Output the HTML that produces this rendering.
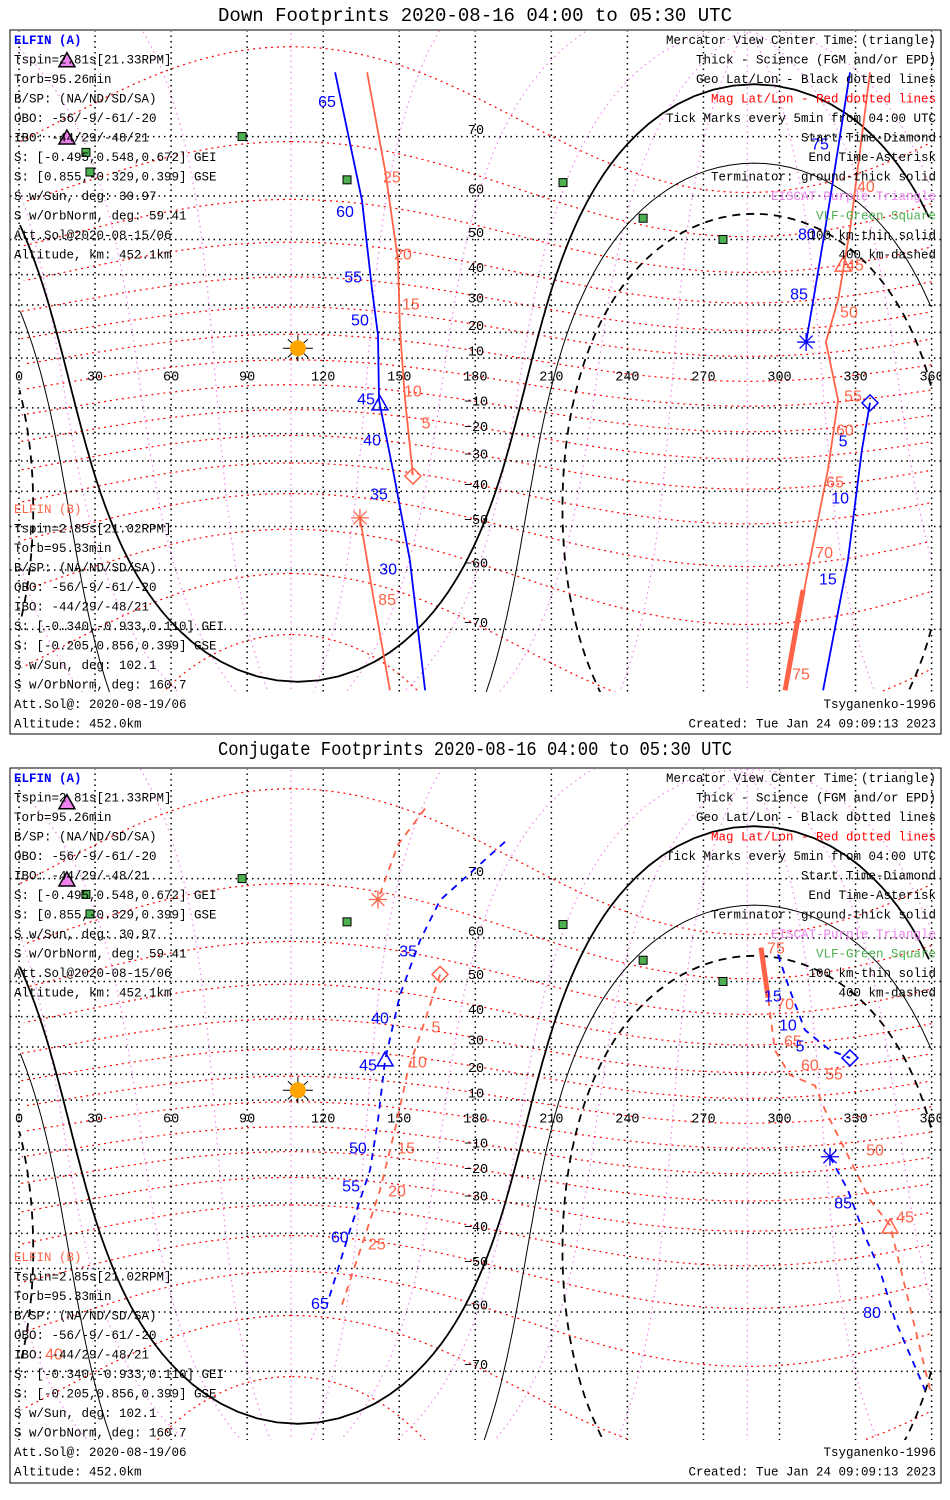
<!DOCTYPE html>
<html><head><meta charset="utf-8"><title>ELFIN Footprints</title>
<style>
html,body{margin:0;padding:0;background:#fff;width:950px;height:1500px;overflow:hidden;}
svg{display:block;}
.t{font-family:"Liberation Mono","DejaVu Sans Mono",monospace;font-size:12.5px;}
.ttl{font-family:"Liberation Mono","DejaVu Sans Mono",monospace;font-size:19px;}
.lbl{font-family:"Liberation Sans","DejaVu Sans",sans-serif;font-size:16px;}
.ax{font-family:"Liberation Mono","DejaVu Sans Mono",monospace;font-size:13.5px;}
</style></head>
<body>
<svg id="chart" width="950" height="1500" viewBox="0 0 950 1500" xmlns="http://www.w3.org/2000/svg">
<rect x="0" y="0" width="950" height="1500" fill="#fff"/>
<defs>
<clipPath id="clip1"><rect x="10" y="31" width="931" height="661"/></clipPath>
<clipPath id="clip2"><rect x="10" y="769" width="931" height="671"/></clipPath>
</defs>
<g id="p1"></g>
<g id="p2"></g>
</svg>
<script>
// ---------- data ----------
const SUBSOLAR_LAT = 13.9;
const SUBSOLAR_LON = 110;
const TERM_RADII = [90, 100.1, 109.9];
const MAGPOLE_LAT = 80.7;
const MAGPOLE_LON = 287.3;
const MLAT_LEVELS = [-80,-70,-60,-50,-40,-30,-20,-10,0,10,20,30,40,50,60,70];
const MLON_AZ = [0,30,60,90,120,150,180,210,240,270,300,330];
const GEO_LON_TICKS = [0,30,60,90,120,150,180,210,240,270,300,330,360];
const GEO_LAT_TICKS = [70,60,50,40,30,20,10,-10,-20,-30,-40,-50,-60,-70];
const VLF_LON = [88,26.4,28,129.4,214.6,246.2,277.7];
const VLF_LAT = [70,67.7,64.5,63.1,62.6,55.2,50.0];
const EISCAT_LON = [18.9,18.9];
const EISCAT_LAT = [78.2,69.8];

// Panel 1 (down footprints)
const d_A1_lon = [124.7,135.3,139.3,141.6,142.0,148.3,154.2,160.2];
const d_A1_lat = [77.2,59.1,35.1,19.0,-6.9,-36.4,-58.0,-76.9];
const d_A1_tick = [65,60,55,50,45,40,35,30];
const d_A1_tlon = [121.5,128.6,131.8,134.5,136.9,139.3,142.0,145.6];
const d_A1_tlat = [74.2,56.5,38.9,24.3,-6.9,-22.8,-41.1,-60.0];
const d_B1_lon = [137.3,144.4,149.5,150.3,152.3,155.4];
const d_B1_lat = [77.2,64.8,44.4,20.9,-6.9,-34.8];
const d_B1_tick = [25,20,15,10,5];
const d_B1_tlon = [147.1,151.5,154.6,155.4,160.6];
const d_B1_tlat = [63.4,45.8,30.0,-3.6,-16.3];
const d_B2_lon = [134.5,139.3,146.3];
const d_B2_lat = [-47.7,-63.8,-76.9];
const d_B2_tick = [85];
const d_B2_tlon = [145.2];
const d_B2_tlat = [-65.6];
const d_A2_lon = [327.8,319.9,314.0,310.5];
const d_A2_lat = [77.2,59.1,35.1,16.3];
const d_A2_tick = [75,80,85];
const d_A2_tlon = [316,310.8,307.7];
const d_A2_tlat = [68.8,51.1,33.4];
const d_A3_lon = [335.7,332.5,327.0,317.2];
const d_A3_lat = [-8.0,-26.1,-58.0,-76.9];
const d_A3_tick = [5,10,15];
const d_A3_tlon = [325.1,323.9,319.1];
const d_A3_tlat = [-23.1,-42.3,-62.0];
const d_B3_lon = [335.7,327.8,323.1,318.3,323.1,319.1,312.0,302.2];
const d_B3_lat = [77.2,52.4,31.8,16.3,-6.9,-33.1,-58.0,-76.9];
const d_B3_sci_lon = [309.3,302.2];
const d_B3_sci_lat = [-63.8,-76.9];
const d_B3_tick = [40,45,50,55,60,65,70,75];
const d_B3_tlon = [334.1,329.8,327.4,329.0,325.8,321.9,317.6,308.5];
const d_B3_tlat = [61.7,42.6,27.1,-5.6,-19.0,-37.4,-56.5,-75.4];

// Panel 2 (conjugate footprints)
const c_A1_lon = [191.7,166.1,158.2,150.3,144.4,141.6,138.5,130.6,121.5];
const c_A1_lat = [74.5,66.8,59.5,46.4,25.4,2.0,-17.8,-38.9,-58.5];
const c_A1_tick = [35,40,45,50,55,60,65];
const c_A1_tlon = [153.5,142.4,137.7,133.7,131.0,126.6,118.7];
const c_A1_tlat = [57.0,39.3,23.1,-9.6,-24.3,-41.4,-58.5];
const c_B1_lon = [160.2,149.5,141.6];
const c_B1_lat = [77.7,74.2,66.9];
const c_B2_lon = [166.1,160.2,153.5,148.3,142.4,136.5,127.4];
const c_B2_lat = [51.8,38.9,21.7,-2.0,-25.4,-40.8,-58.5];
const c_B2_tick = [5,10,15,20,25];
const c_B2_tlon = [164.5,157.4,152.7,149.1,141.2];
const c_B2_tlat = [36.4,24.3,-9.6,-26.1,-43.5];
const c_B3_lon = [292.7,295.5,298.2,304.1,314.0,318.0,323.9,335.7,343.6,359.4];
const c_B3_lat = [58.0,45.6,28.9,19.8,15.7,6.0,-6.0,-28.9,-37.4,-72.4];
const c_B3_sci_lon = [292.7,295.5];
const c_B3_sci_lat = [58.0,45.6];
const c_B3_tick = [75,70,65,60,55,50,45,40];
const c_B3_tlon = [298.6,302.2,305.3,312.0,321.5,337.7,349.5,13.8];
const c_B3_tlat = [57.7,43.5,31.8,23.1,19.8,-10.4,-35.1,-67.6];
const c_A2_lon = [299.4,304.1,310.0,319.9,327.8];
const c_A2_lat = [56.5,47.7,35.8,28.9,26.1];
const c_A2_tick = [15,10,5];
const c_A2_tlon = [297.4,303.3,308.1];
const c_A2_tlat = [45.8,37.0,30.0];
const c_A3_lon = [319.9,327.0,333.7,339.6,345.6,357.4];
const c_A3_lat = [-12.7,-25.4,-40.8,-50.4,-61.6,-72.4];
const c_A3_tick = [85,80];
const c_A3_tlon = [325.1,336.5];
const c_A3_tlat = [-30.4,-60.3];

const BLUE = "#0000ff", ORANGE = "#ff6347", RED = "#ff0000", VIOLET = "#ee82ee", GREEN = "#4cb050";
const NS = "http://www.w3.org/2000/svg";
const D2R = Math.PI/180;

function mk(tag, attrs, parent){
  const e = document.createElementNS(NS, tag);
  for (const k in attrs) e.setAttribute(k, attrs[k]);
  parent.appendChild(e);
  return e;
}
function X(lon){ lon = ((lon % 360) + 360) % 360; return 19 + lon*2.535; }
function Xr(lon){ return 19 + lon*2.535; }
function Yf(y0){ return function(lat){ lat = Math.max(-86, Math.min(86, lat)); return y0 - 142*Math.log(Math.tan(Math.PI/4 + lat*D2R/2)); }; }

function pathFrom(lons, lats, Y, wrap){
  let d = "", px = null;
  for (let i=0;i<lons.length;i++){
    const x = wrap ? X(lons[i]) : Xr(lons[i]);
    const y = Y(lats[i]);
    if (px === null || Math.abs(x-px) > 300) d += "M"+x.toFixed(1)+","+y.toFixed(1);
    else d += "L"+x.toFixed(1)+","+y.toFixed(1);
    px = x;
  }
  return d;
}
function circlePts(lat0, lon0, r){
  const lons=[], lats=[];
  const p0 = lat0*D2R, rr = r*D2R;
  for (let a=0;a<=360;a+=2){
    const az = a*D2R;
    const sl = Math.sin(p0)*Math.cos(rr) + Math.cos(p0)*Math.sin(rr)*Math.cos(az);
    const lat = Math.asin(sl);
    const lon = lon0*D2R + Math.atan2(Math.sin(az)*Math.sin(rr)*Math.cos(p0), Math.cos(rr)-Math.sin(p0)*sl);
    lons.push(lon/D2R); lats.push(lat/D2R);
  }
  return [lons, lats];
}
function meridianPts(lat0, lon0, az){
  const lons=[], lats=[];
  const p0 = lat0*D2R, a = az*D2R;
  for (let r=0;r<=180;r+=2){
    const rr = r*D2R;
    const sl = Math.sin(p0)*Math.cos(rr) + Math.cos(p0)*Math.sin(rr)*Math.cos(a);
    const lat = Math.asin(sl);
    const lon = lon0*D2R + Math.atan2(Math.sin(a)*Math.sin(rr)*Math.cos(p0), Math.cos(rr)-Math.sin(p0)*sl);
    lons.push(lon/D2R); lats.push(lat/D2R);
  }
  return [lons, lats];
}
function text(parent, x, y, str, cls, fill, anchor, name){
  const t = mk("text", {x:x, y:y, class:cls, fill:fill, "text-anchor":anchor||"start", "dominant-baseline":"central"}, parent);
  
  
  t.textContent = str;
  return t;
}
function triangle(g, x, y, color, fill, name){
  const p = mk("polygon", {points:(x)+","+(y-8)+" "+(x-8)+","+(y+6)+" "+(x+8)+","+(y+6), fill:fill, stroke:color, "stroke-width":1.5}, g);
  
  
}
function diamond(g, x, y, color, name){
  const p = mk("polygon", {points:x+","+(y-8)+" "+(x+8)+","+y+" "+x+","+(y+8)+" "+(x-8)+","+y, fill:"none", stroke:color, "stroke-width":1.5}, g);
  
  
}
function asterisk(g, x, y, color, name){
  const d = "M"+(x-9)+","+y+"L"+(x+9)+","+y+"M"+x+","+(y-9)+"L"+x+","+(y+9)+"M"+(x-6.5)+","+(y-6.5)+"L"+(x+6.5)+","+(y+6.5)+"M"+(x-6.5)+","+(y+6.5)+"L"+(x+6.5)+","+(y-6.5);
  const p = mk("path", {d:d, stroke:color, "stroke-width":1.3, fill:"none"}, g);
  
  
}

function drawPanel(g, cfg){
  const Y = Yf(cfg.y0);
  const fr = mk("rect", {x:10, y:cfg.top, width:931, height:cfg.bottom-cfg.top, fill:"none", stroke:"#000", "stroke-width":1}, g);
  
  
  const tt = mk("text", {x:475, y:cfg.titleY, class:"ttl", fill:"#000", "text-anchor":"middle", "dominant-baseline":"central", textLength:514, lengthAdjust:"spacingAndGlyphs"}, g);
  
  
  tt.textContent = cfg.title;

  const m = mk("g", {"clip-path":"url(#"+cfg.clip+")"}, g);
  
  

  MLON_AZ.forEach(function(az){
    const pts = meridianPts(MAGPOLE_LAT, MAGPOLE_LON, az);
    const p = mk("path", {d:pathFrom(pts[0], pts[1], Y, true), stroke:VIOLET, "stroke-width":1.2, "stroke-dasharray":"1.5,4", fill:"none"}, m);
    
    
  });
  MLAT_LEVELS.forEach(function(ml){
    const pts = circlePts(MAGPOLE_LAT, MAGPOLE_LON, 90-ml);
    const p = mk("path", {d:pathFrom(pts[0], pts[1], Y, true), stroke:RED, "stroke-width":1.2, "stroke-dasharray":"2,4", fill:"none"}, m);
    
    
  });
  GEO_LON_TICKS.forEach(function(lo){
    const p = mk("line", {x1:Xr(lo), x2:Xr(lo), y1:cfg.top, y2:cfg.mapBottom, stroke:"#000", "stroke-width":1.5, "stroke-dasharray":"1.5,4"}, m);
    
    
  });
  GEO_LAT_TICKS.forEach(function(la){
    const p = mk("line", {x1:10, x2:941, y1:Y(la), y2:Y(la), stroke:"#000", "stroke-width":1.5, "stroke-dasharray":"1.5,4"}, m);
    
    
  });
  TERM_RADII.forEach(function(r, i){
    const pts = circlePts(SUBSOLAR_LAT, SUBSOLAR_LON, r);
    const attrs = {d:pathFrom(pts[0], pts[1], Y, true), stroke:"#000", fill:"none", "stroke-width": i===0 ? 1.8 : 1};
    if (i===2){ attrs["stroke-dasharray"]="8,6"; attrs["stroke-width"]=1.8; }
    const p = mk("path", attrs, m);
    
    
  });
  GEO_LON_TICKS.forEach(function(lo){
    text(m, Xr(lo), cfg.y0-5, String(lo), "ax", "#000", "middle", "lon-tick-label");
  });
  GEO_LAT_TICKS.forEach(function(la){
    text(m, 476, Y(la)-5, la<0 ? "\u2212"+(-la) : String(la), "ax", "#000", "middle", "lat-tick-label");
  });
  VLF_LON.forEach(function(lo, i){
    const r = mk("rect", {x:X(lo)-4, y:Y(VLF_LAT[i])-4, width:8, height:8, fill:GREEN, stroke:"#000", "stroke-width":1}, m);
    
    
  });
  EISCAT_LON.forEach(function(lo, i){
    triangle(m, X(lo), Y(EISCAT_LAT[i]), "#000", VIOLET, "eiscat-station");
  });
  const sx = X(SUBSOLAR_LON), sy = Y(SUBSOLAR_LAT);
  const rays = mk("path", {d:"M"+(sx-15)+","+sy+"L"+(sx+15)+","+sy+"M"+sx+","+(sy-13)+"L"+sx+","+(sy+13)+"M"+(sx-10)+","+(sy-9)+"L"+(sx+10)+","+(sy+9)+"M"+(sx-10)+","+(sy+9)+"L"+(sx+10)+","+(sy-9), stroke:"#000", "stroke-width":1}, m);
  
  
  const sun = mk("circle", {cx:sx, cy:sy, r:8, fill:"#ffa500"}, m);
  
  

  cfg.tracks.forEach(function(tr){
    const attrs = {d:pathFrom(tr.lon, tr.lat, Y, false), stroke:tr.color, "stroke-width":1.8, fill:"none"};
    if (cfg.dashed) attrs["stroke-dasharray"] = "7,6";
    const p = mk("path", attrs, m);
    
    
    if (tr.sciLon){
      const s = mk("path", {d:pathFrom(tr.sciLon, tr.sciLat, Y, false), stroke:tr.color, "stroke-width":5, fill:"none"}, m);
      
      
    }
    if (tr.tick){
      tr.tick.forEach(function(v, i){
        text(m, X(tr.tlon[i]), Y(tr.tlat[i]), String(v), "lbl", tr.color, "middle", "track-time-tick");
      });
    }
  });
  cfg.markers.forEach(function(mm){
    const x = Xr(mm.lon), y = Y(mm.lat);
    if (mm.type==="tri") triangle(m, x, y, mm.color, "none", "center-time-triangle");
    else if (mm.type==="dia") diamond(m, x, y, mm.color, "start-time-diamond");
    else asterisk(m, x, y, mm.color, "end-time-asterisk");
  });

  const L = cfg.textTop, B = cfg.textBot, S = 19.5;
  const left = ["ELFIN (A)","Tspin=2.81s[21.33RPM]","Torb=95.26min","B/SP: (NA/ND/SD/SA)","OBO: -56/-9/-61/-20","IBO: -44/29/-48/21","S: [-0.495,0.548,0.672] GEI","S: [0.855,-0.329,0.399] GSE","S w/Sun, deg: 30.97","S w/OrbNorm, deg: 59.41","Att.Sol@2020-08-15/06","Altitude, km: 452.1km"];
  left.forEach(function(s, i){
    const t = text(g, 14, L+i*S, s, "t", i===0 ? BLUE : "#000", "start", i===0 ? "elfin-a-heading" : "elfin-a-info");
    if (i===0) t.setAttribute("font-weight","bold");
  });
  const leftB = ["ELFIN (B)","Tspin=2.85s[21.02RPM]","Torb=95.33min","B/SP: (NA/ND/SD/SA)","OBO: -56/-9/-61/-20","IBO: -44/29/-48/21","S: [-0.340,-0.933,0.110] GEI","S: [-0.205,0.856,0.399] GSE","S w/Sun, deg: 102.1","S w/OrbNorm, deg: 160.7","Att.Sol@: 2020-08-19/06","Altitude: 452.0km"];
  leftB.forEach(function(s, i){
    text(g, 14, B+i*S, s, "t", i===0 ? ORANGE : "#000", "start", i===0 ? "elfin-b-heading" : "elfin-b-info");
  });
  const right = [["Mercator View Center Time (triangle)","#000"],["Thick - Science (FGM and/or EPD)","#000"],["Geo Lat/Lon - Black dotted lines","#000"],["Mag Lat/Lon - Red dotted lines",RED],["Tick Marks every 5min from 04:00 UTC","#000"],["Start Time-Diamond","#000"],["End Time-Asterisk","#000"],["Terminator: ground-thick solid","#000"],["EISCAT-Purple Triangle",VIOLET],["VLF-Green Square",GREEN],["100 km-thin solid","#000"],["400 km-dashed","#000"]];
  right.forEach(function(r, i){
    text(g, 936, L+i*S, r[0], "t", r[1], "end", "legend-entry");
  });
  text(g, 936, B+10*S, "Tsyganenko-1996", "t", "#000", "end", "model-label");
  text(g, 936, B+11*S, "Created: Tue Jan 24 09:09:13 2023", "t", "#000", "end", "created-timestamp");
}

drawPanel(document.getElementById("p1"), {
  title:"Down Footprints 2020-08-16 04:00 to 05:30 UTC", titleY:16, top:30, bottom:734, mapBottom:692,
  y0:383, clip:"clip1", dashed:false, textTop:41, textBot:510,
  tracks:[
    {name:"elfin-a-track-1", color:BLUE, lon:d_A1_lon, lat:d_A1_lat, tick:d_A1_tick, tlon:d_A1_tlon, tlat:d_A1_tlat},
    {name:"elfin-b-track-1", color:ORANGE, lon:d_B1_lon, lat:d_B1_lat, tick:d_B1_tick, tlon:d_B1_tlon, tlat:d_B1_tlat},
    {name:"elfin-b-track-2", color:ORANGE, lon:d_B2_lon, lat:d_B2_lat, tick:d_B2_tick, tlon:d_B2_tlon, tlat:d_B2_tlat},
    {name:"elfin-a-track-2", color:BLUE, lon:d_A2_lon, lat:d_A2_lat, tick:d_A2_tick, tlon:d_A2_tlon, tlat:d_A2_tlat},
    {name:"elfin-a-track-3", color:BLUE, lon:d_A3_lon, lat:d_A3_lat, tick:d_A3_tick, tlon:d_A3_tlon, tlat:d_A3_tlat},
    {name:"elfin-b-track-3", color:ORANGE, lon:d_B3_lon, lat:d_B3_lat, sciLon:d_B3_sci_lon, sciLat:d_B3_sci_lat, tick:d_B3_tick, tlon:d_B3_tlon, tlat:d_B3_tlat}
  ],
  markers:[
    {type:"tri", color:BLUE, lon:142.4, lat:-8.4},
    {type:"dia", color:ORANGE, lon:155.4, lat:-35.1},
    {type:"ast", color:ORANGE, lon:134.5, lat:-47.7},
    {type:"ast", color:BLUE, lon:310.5, lat:16.3},
    {type:"dia", color:BLUE, lon:335.7, lat:-8.0},
    {type:"tri", color:ORANGE, lon:325.1, lat:42.9}
  ]
});
drawPanel(document.getElementById("p2"), {
  title:"Conjugate Footprints 2020-08-16 04:00 to 05:30 UTC", titleY:750, top:768, bottom:1483, mapBottom:1440,
  y0:1125, clip:"clip2", dashed:true, textTop:779, textBot:1258,
  tracks:[
    {name:"elfin-a-conj-track-1", color:BLUE, lon:c_A1_lon, lat:c_A1_lat, tick:c_A1_tick, tlon:c_A1_tlon, tlat:c_A1_tlat},
    {name:"elfin-b-conj-track-1", color:ORANGE, lon:c_B1_lon, lat:c_B1_lat},
    {name:"elfin-b-conj-track-2", color:ORANGE, lon:c_B2_lon, lat:c_B2_lat, tick:c_B2_tick, tlon:c_B2_tlon, tlat:c_B2_tlat},
    {name:"elfin-b-conj-track-3", color:ORANGE, lon:c_B3_lon, lat:c_B3_lat, sciLon:c_B3_sci_lon, sciLat:c_B3_sci_lat, tick:c_B3_tick, tlon:c_B3_tlon, tlat:c_B3_tlat},
    {name:"elfin-a-conj-track-2", color:BLUE, lon:c_A2_lon, lat:c_A2_lat, tick:c_A2_tick, tlon:c_A2_tlon, tlat:c_A2_tlat},
    {name:"elfin-a-conj-track-3", color:BLUE, lon:c_A3_lon, lat:c_A3_lat, tick:c_A3_tick, tlon:c_A3_tlon, tlat:c_A3_tlat}
  ],
  markers:[
    {type:"tri", color:BLUE, lon:144.4, lat:25.4},
    {type:"ast", color:ORANGE, lon:141.6, lat:66.9},
    {type:"dia", color:ORANGE, lon:166.1, lat:51.8},
    {type:"dia", color:BLUE, lon:327.8, lat:26.1},
    {type:"ast", color:BLUE, lon:319.9, lat:-12.7},
    {type:"tri", color:ORANGE, lon:343.6, lat:-38.0}
  ]
});
</script>
</body></html>
